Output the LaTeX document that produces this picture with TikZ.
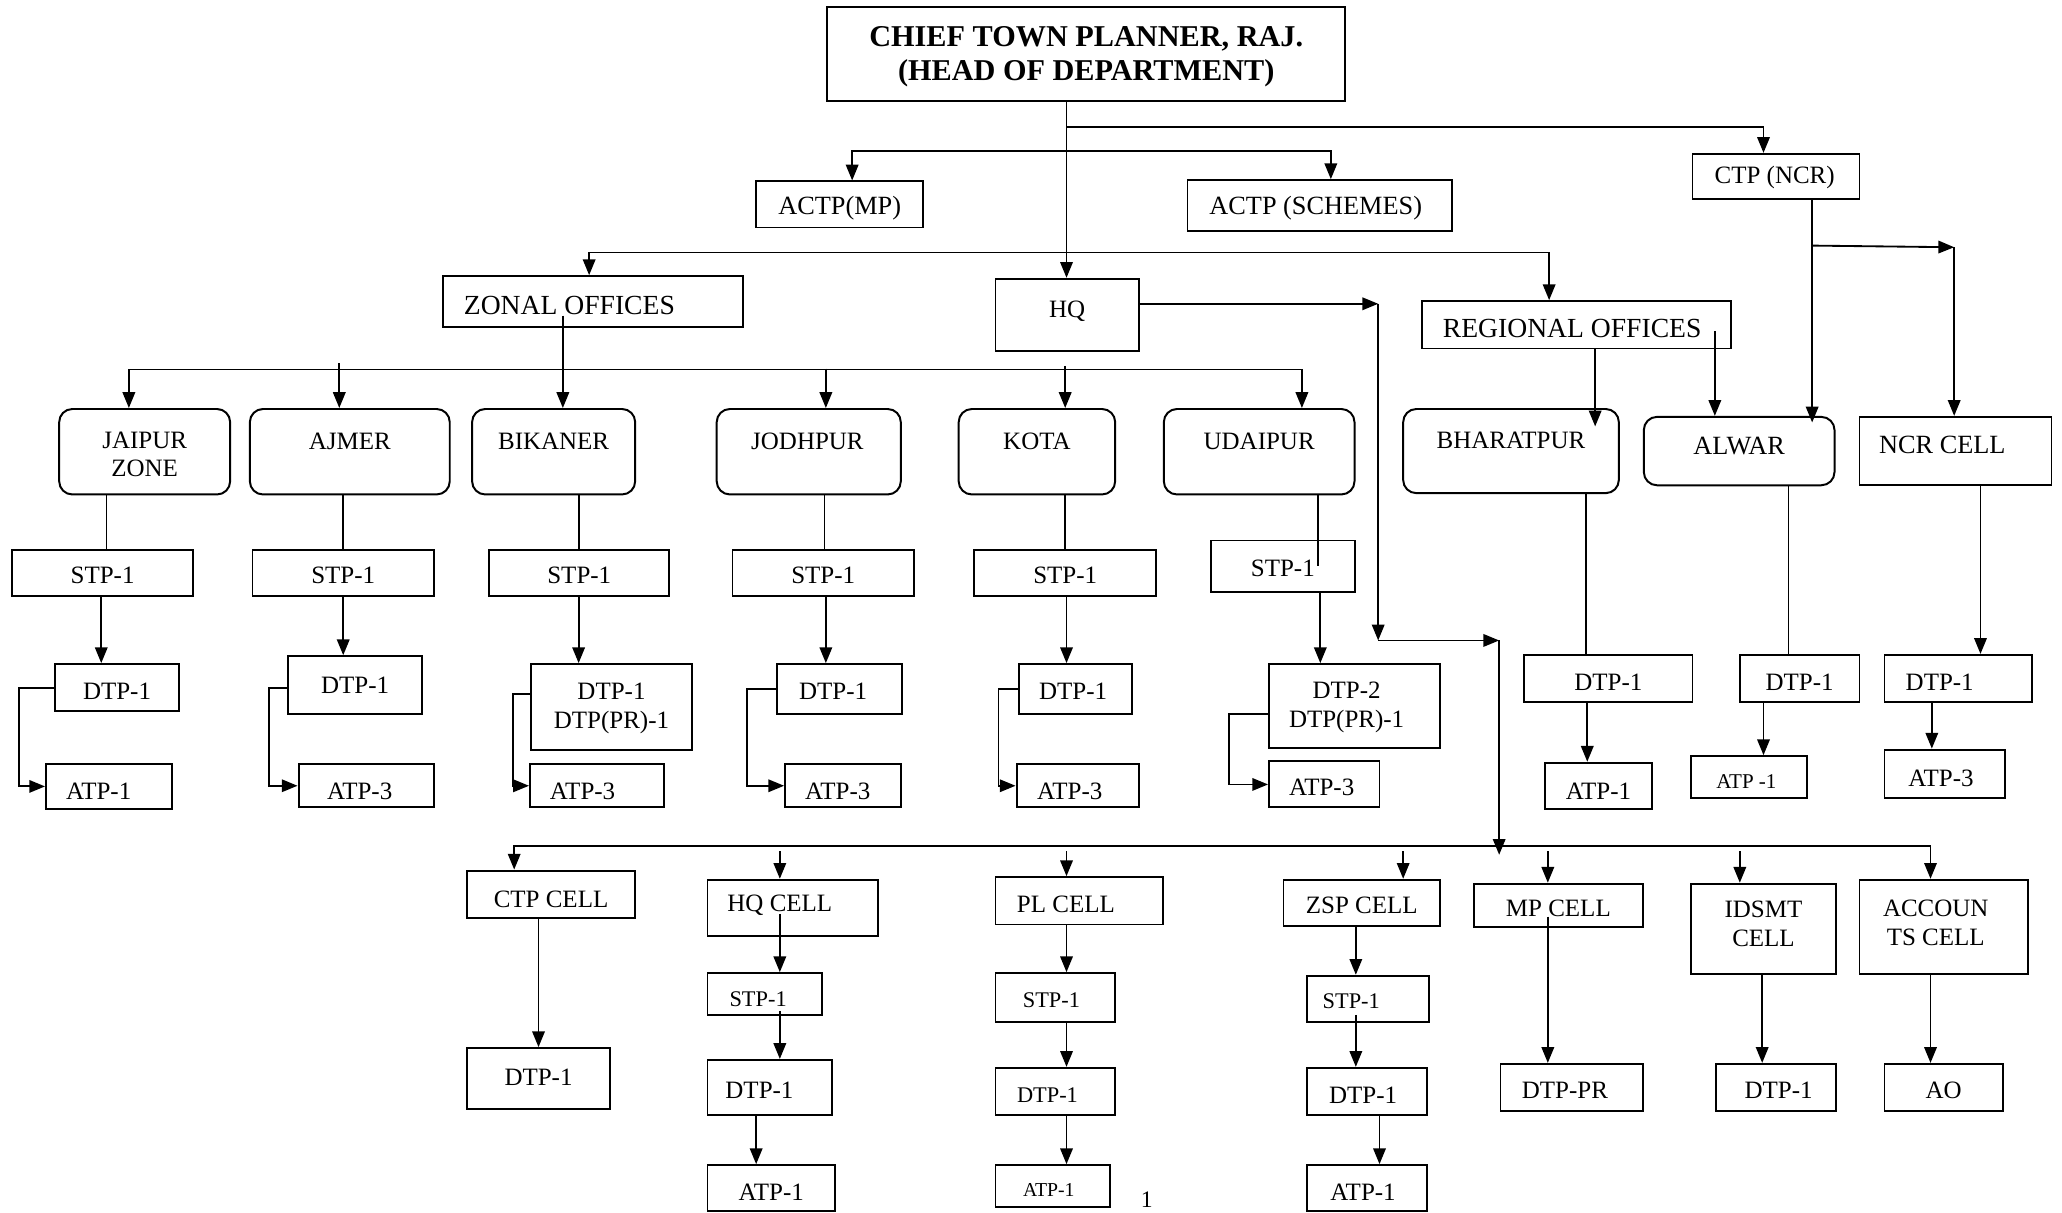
\documentclass[tikz,border=0pt]{standalone}
\usepackage{fontspec}
\setmainfont{Liberation Serif}
\usetikzlibrary{arrows.meta}
\tikzset{
 box/.style={draw, line width=1.5pt, inner sep=0pt},
 rbox/.style={box, rounded corners=10pt},
 lbl/.style={inner sep=0pt, align=center},
 con/.style={line width=1.4pt},
 ar/.style={con, -{Triangle[length=12pt,width=9.5pt]}},
 dar/.style={con, {Triangle[length=12pt,width=9.5pt]}-{Triangle[length=12pt,width=9.5pt]}},
}
\newcommand\bx[9][box]{%
 \node[#1,minimum width=#5pt-#3pt,minimum height=#6pt-#4pt] (#2) at ({(#3+#5)/2},{(#4+#6)/2}) {};%
 \node[lbl] (#2-t) at ([shift={(#7,#8+2)}]#2.center) {#9};}
\newcommand\fsm{\fontsize{17}{19}\selectfont}
\newcommand\fxs{\fontsize{15}{17}\selectfont}
\newcommand\flg{\fontsize{21}{24}\selectfont}
\newcommand\fmd{\fontsize{20}{22}\selectfont}
\begin{document}
\begin{tikzpicture}[x=1pt,y=-1pt,font=\fontsize{19}{22}\selectfont]
\useasboundingbox (0,0) rectangle (1568,922);
% top level
\node[box,minimum width=394pt,minimum height=72pt] (title) at (826,41) {};
\node[lbl,font=\bfseries\fontsize{23}{26}\selectfont] (title-t) at ([yshift=-2pt]title.center) {CHIEF TOWN PLANNER, RAJ.\\(HEAD OF DEPARTMENT)};
\bx{actpmp}{575}{138}{702}{173}{0}{1}{\fmd ACTP(MP)}
\bx{actps}{903}{137}{1104}{176}{-3}{0}{\fmd ACTP (SCHEMES)}
\bx{ctpncr}{1287}{117}{1414}{151}{-1}{-1}{CTP (NCR)}
\bx{zonal}{337}{210}{565}{249}{-18}{0.5}{\flg ZONAL OFFICES}
\bx{hq}{757}{212}{866}{267}{0}{-5}{HQ}
\bx{regional}{1081}{229}{1316}{265}{-3}{1}{\flg REGIONAL OFFICES}
% zones
\bx[rbox]{jz}{45}{311}{175}{376}{0}{0}{JAIPUR\\ZONE}
\bx[rbox]{ajm}{190}{311}{342}{376}{0}{-10}{AJMER}
\bx[rbox]{bik}{359}{311}{483}{376}{0}{-10}{BIKANER}
\bx[rbox]{jod}{545}{311}{685}{376}{-1}{-10}{JODHPUR}
\bx[rbox]{kota}{729}{311}{848}{376}{0}{-10}{KOTA}
\bx[rbox]{uda}{885}{311}{1030}{376}{0}{-10}{UDAIPUR}
\bx[rbox]{bha}{1067}{311}{1231}{375}{0}{-10}{BHARATPUR}
\bx[rbox]{alw}{1250}{317}{1395}{369}{0}{-6}{\fmd ALWAR}
\bx{ncr}{1414}{317}{1560}{369}{-10}{-7}{\fmd NCR CELL}
% zone columns
\bx{jzs}{9}{418}{147}{453}{0}{0}{STP-1}
\bx{jzd}{42}{505}{136}{541}{0}{1}{DTP-1}
\bx{jza}{35}{581}{131}{615}{-8}{2}{ATP-1}
\bx{ajs}{192}{418}{330}{453}{0}{0}{STP-1}
\bx{ajd}{219}{499}{321}{543}{0}{-2}{DTP-1}
\bx{aja}{227}{581}{330}{614}{-5}{2}{ATP-3}
\bx{bis}{372}{418}{509}{453}{0}{0}{STP-1}
\bx{bid}{404}{505}{526}{570}{0}{-1}{DTP-1\\DTP(PR)-1}
\bx{bia}{403}{581}{505}{614}{-11}{2}{ATP-3}
\bx{jos}{557}{418}{695}{453}{0}{0}{STP-1}
\bx{jodd}{591}{505}{686}{543}{-5}{0}{DTP-1}
\bx{joa}{597}{581}{685}{614}{-4}{2}{ATP-3}
\bx{kos}{741}{418}{879}{453}{0}{0}{STP-1}
\bx{kod}{775}{505}{861}{543}{-2}{0}{DTP-1}
\bx{koa}{773}{581}{866}{614}{-6}{2}{ATP-3}
\bx{uds}{921}{411}{1030}{450}{0}{0}{STP-1}
\bx{udd}{965}{505}{1095}{569}{-6}{-1}{DTP-2\\DTP(PR)-1}
\bx{udaa}{965}{579}{1049}{614}{-2}{0}{ATP-3}
% regional columns
\bx{bhd}{1159}{498}{1287}{534}{0}{1}{DTP-1}
\bx{bhaa}{1175}{580}{1256}{615}{0}{2}{ATP-1}
\bx{ald}{1323}{498}{1414}{534}{0}{1}{DTP-1}
\bx{alaa}{1286}{575}{1374}{607}{-2}{1}{\fontsize{16}{18}\selectfont ATP -1}
\bx{ncd}{1433}{498}{1545}{534}{-14}{1}{DTP-1}
\bx{ncaa}{1433}{570}{1525}{607}{-3}{1}{ATP-3}
% bottom cells
\bx{ctpc}{355}{662}{483}{698}{0}{2}{CTP CELL}
\bx{ctpd}{355}{797}{464}{843}{0}{-3}{DTP-1}
\bx{hqc}{538}{669}{668}{712}{-10}{-4}{HQ CELL}
\bx{hqs}{538}{740}{625}{772}{-5}{2}{\fsm STP-1}
\bx{hqd}{538}{806}{633}{848}{-8}{0}{DTP-1}
\bx{hqa}{538}{886}{635}{921}{0}{1}{ATP-1}
\bx{plc}{757}{667}{884}{703}{-10}{1}{PL CELL}
\bx{pls}{757}{740}{848}{777}{-3}{0}{\fsm STP-1}
\bx{pld}{757}{812}{848}{848}{-6}{1}{\fsm DTP-1}
\bx{pla}{757}{886}{844}{918}{-3}{1}{\fxs ATP-1}
\bx{zsp}{976}{669}{1095}{704}{0}{0}{ZSP CELL}
\bx{zss}{994}{742}{1087}{777}{-13}{0}{\fsm STP-1}
\bx{zsd}{994}{812}{1085}{848}{-3}{1}{DTP-1}
\bx{zsa}{994}{886}{1085}{921}{-3}{1}{ATP-1}
\bx{mpc}{1121}{672}{1249}{705}{0}{0}{MP CELL}
\bx{mpd}{1141}{809}{1249}{845}{-5}{0}{DTP-PR}
\bx{ids}{1286}{672}{1396}{741}{0}{-6}{IDSMT\\CELL}
\bx{idd}{1305}{809}{1396}{845}{2}{0}{DTP-1}
\bx{acc}{1414}{669}{1542}{741}{-6}{-5}{ACCOUN\\TS CELL}
\bx{ao}{1433}{809}{1523}{845}{0}{0}{AO}
\node[lbl,font=\fontsize{18}{20}\selectfont] (pg) at (872,912) {1};
% ---- connectors: top
\draw[ar] ([xshift=-15pt]title.south) -- ([xshift=-0.5pt]hq.north);
\coordinate (j1) at ([xshift=-15pt,yshift=-19pt]title.south);
\draw[ar] (j1) -| ([xshift=-9.5pt]ctpncr.north);
\draw[dar] ([xshift=9.5pt]actpmp.north) |- (1012,115) -- ([xshift=8.5pt]actps.north);
\draw[dar] ([xshift=-3pt]zonal.north) |- (1178,192) -- ([xshift=-20.5pt]regional.north);
% HQ chain
\coordinate (h1) at (1048,231);
\coordinate (h2) at (1048,487);
\coordinate (h3) at (1140,487);
\coordinate (h4) at (1140,650);
\draw[ar] (hq.east |- h1) -- (h1);
\draw[ar] (h1) -- (h2);
\draw[ar] (h2) -- (h3);
\draw[ar] (h3) -- (h4);
% bottom bus
\draw[dar] ([xshift=-28pt]ctpc.north) |- (1468,643) -- ([xshift=-10pt]acc.north);
\draw[ar] ([xshift=-10pt,yshift=21pt]hqc.north) -- ([xshift=-10pt]hqc.north);
\draw[ar] ([xshift=-9.5pt,yshift=19pt]plc.north) -- ([xshift=-9.5pt]plc.north);
\draw[ar] ([xshift=31.5pt,yshift=21pt]zsp.north) -- ([xshift=31.5pt]zsp.north);
\draw[ar] ([xshift=-8pt,yshift=24pt]mpc.north) -- ([xshift=-8pt]mpc.north);
\draw[ar] ([xshift=-18pt,yshift=24pt]ids.north) -- ([xshift=-18pt]ids.north);
% zone bus
\draw[dar] ([xshift=-12pt]jz.north) |- (990,281) -- ([xshift=32.5pt]uda.north);
\draw[ar] ([xshift=-8pt,yshift=34pt]ajm.north) -- ([xshift=-8pt]ajm.north);
\draw[ar] ([xshift=13pt,yshift=30pt]jod.north) -- ([xshift=13pt]jod.north);
\draw[ar] ([xshift=21.5pt,yshift=32pt]kota.north) -- ([xshift=21.5pt]kota.north);
\draw[ar] ([xshift=-23pt,yshift=-10.5pt]zonal.center) -- ([xshift=7pt]bik.north);
% zone columns
\draw[con] ([xshift=-29pt]jz.south) -- ([xshift=3pt]jzs.north);
\draw[ar] ([xshift=-1pt]jzs.south) -- ([xshift=-12pt]jzd.north);
\draw[ar] (jzd.west) -- ++(-27,0) |- (jza.west);
\draw[con] ([xshift=-5pt]ajm.south) -- (ajs.north);
\draw[ar] (ajs.south) -- ([xshift=-9pt]ajd.north);
\draw[ar] ([yshift=-2pt]ajd.west) -- ++(-14,0) |- (aja.west);
\draw[con] ([xshift=19pt]bik.south) -- ([xshift=-0.5pt]bis.north);
\draw[ar] ([xshift=-0.5pt]bis.south) -- ([xshift=-25pt]bid.north);
\draw[ar] ([yshift=9.5pt]bid.west) -- ++(-13,0) |- (bia.west);
\draw[con] ([xshift=12pt]jod.south) -- ([xshift=1pt]jos.north);
\draw[ar] ([xshift=2pt]jos.south) -- ([xshift=-10.5pt]jodd.north);
\draw[ar] (jodd.west) -- ++(-22,0) |- (joa.west);
\draw[con] ([xshift=21.5pt]kota.south) -- (kos.north);
\draw[ar] ([xshift=1pt]kos.south) -- ([xshift=-7pt]kod.north);
\draw[ar] (kod.west) -- ++(-15,0) |- (koa.west);
\draw[con] ([xshift=44.5pt]uda.south) -- ([xshift=26.5pt]uds.center);
\draw[ar] ([xshift=28.5pt]uds.south) -- ([xshift=-26pt]udd.north);
\draw[ar] ([yshift=-6pt]udd.west) -- ++(-30,0) |- (udaa.west);
% regional
\draw[ar] ([xshift=14.5pt]regional.south) -- ([xshift=64pt,yshift=-14pt]bha.north);
\draw[ar] ([xshift=105.5pt,yshift=-5pt]regional.center) -- ([xshift=-18.5pt]alw.north);
\draw[ar] ([xshift=27.5pt]ctpncr.south) -- ([xshift=55.5pt,yshift=-5pt]alw.north);
\coordinate (n1) at ([xshift=27.5pt,yshift=-35pt]ctpncr.south);
\coordinate (n2) at (1486,188);
\draw[ar] (n1) -- (n2);
\draw[ar] (n2) -- ([xshift=-1pt]ncr.north);
\draw[con] ([xshift=57pt]bha.south) -- ([xshift=-17pt]bhd.north);
\draw[ar] ([xshift=-16pt]bhd.south) -- ([xshift=-8.5pt]bhaa.north);
\draw[con] ([xshift=37.5pt]alw.south) -- ([xshift=-8.5pt]ald.north);
\draw[ar] ([xshift=-27.5pt]ald.south) -- ([xshift=11pt]alaa.north);
\draw[ar] ([xshift=19pt]ncr.south) -- ([xshift=17pt]ncd.north);
\draw[ar] ([xshift=-20pt]ncd.south) -- ([xshift=-10pt]ncaa.north);
% bottom columns
\draw[ar] (ctpc.south -| ctpd.north) -- (ctpd.north);
\draw[ar] ([xshift=-10pt,yshift=-4.5pt]hqc.center) -- ([xshift=11.5pt]hqs.north);
\draw[ar] ([xshift=11.5pt,yshift=4pt]hqs.south) -- ([xshift=7.5pt]hqd.north);
\draw[ar] ([xshift=-10.5pt]hqd.south) -- ([xshift=-11.5pt]hqa.north);
\draw[ar] ([xshift=-9.5pt]plc.south) -- ([xshift=8.5pt]pls.north);
\draw[ar] ([xshift=8.5pt]pls.south) -- ([xshift=8.5pt]pld.north);
\draw[ar] ([xshift=8.5pt]pld.south) -- ([xshift=10.5pt]pla.north);
\draw[ar] ([xshift=-4.5pt]zsp.south) -- ([xshift=-9.5pt]zss.north);
\draw[ar] ([xshift=-9.5pt,yshift=6pt]zss.south) -- ([xshift=-8.5pt]zsd.north);
\draw[ar] ([xshift=9.5pt]zsd.south) -- ([xshift=9.5pt]zsa.north);
\draw[ar] ([xshift=-8pt,yshift=-8.5pt]mpc.center) -- ([xshift=-18pt]mpd.north);
\draw[ar] ([xshift=-1pt]ids.south) -- ([xshift=-10.5pt]idd.north);
\draw[ar] ([xshift=-10pt]acc.south) -- ([xshift=-10pt]ao.north);
\end{tikzpicture}
\end{document}
